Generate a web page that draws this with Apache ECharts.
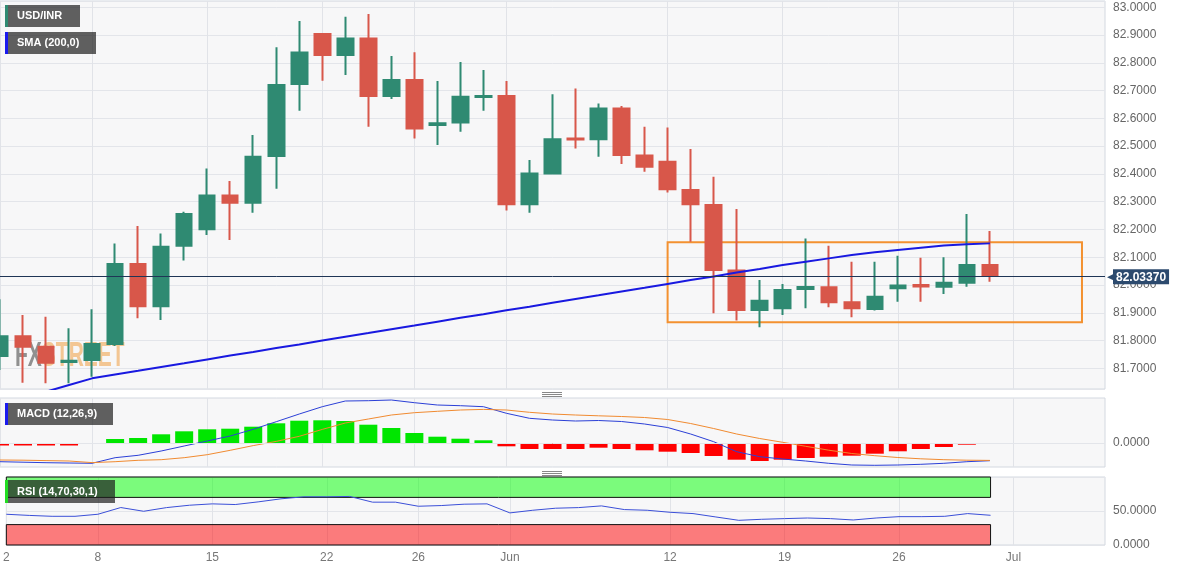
<!DOCTYPE html>
<html><head><meta charset="utf-8">
<script src="https://cdn.jsdelivr.net/npm/echarts@6/dist/echarts.min.js"></script>
<style>html,body{margin:0;padding:0;background:#fff}#c{width:1182px;height:571px}</style>
</head><body><div id="c"></div>
<script>
// ---- data ----
const dates = ['2023-05-02','2023-05-03','2023-05-04','2023-05-05','2023-05-08','2023-05-09','2023-05-10','2023-05-11','2023-05-12',
'2023-05-15','2023-05-16','2023-05-17','2023-05-18','2023-05-19','2023-05-22','2023-05-23','2023-05-24','2023-05-25','2023-05-26',
'2023-05-29','2023-05-30','2023-05-31','2023-06-01','2023-06-02','2023-06-05','2023-06-06','2023-06-07','2023-06-08','2023-06-09',
'2023-06-12','2023-06-13','2023-06-14','2023-06-15','2023-06-16','2023-06-19','2023-06-20','2023-06-21','2023-06-22','2023-06-23',
'2023-06-26','2023-06-27','2023-06-28','2023-06-29','2023-06-30','2023-07-03','2023-07-04','2023-07-05','2023-07-06','2023-07-07'];
const xTickDates = ['2023-05-02','2023-05-08','2023-05-15','2023-05-22','2023-05-26','2023-06-01','2023-06-12','2023-06-19','2023-06-26','2023-07-03'];
const xTickLabels = ['2','8','15','22','26','Jun','12','19','26','Jul'];

const open  = [81.744,81.816,81.778,81.723,81.730,81.788,82.076,81.924,82.141,82.201,82.322,82.296,82.465,82.724,82.904,82.828,82.888,82.681,82.738,82.576,82.585,82.677,82.681,82.291,82.402,82.528,82.525,82.636,82.466,82.444,82.342,82.288,82.052,81.910,81.916,81.986,81.992,81.938,81.914,81.988,82.000,81.994,82.008,82.072];
const close = [81.816,81.778,81.720,81.727,81.788,82.076,81.924,82.138,82.256,82.322,82.296,82.462,82.720,82.837,82.828,82.888,82.681,82.738,82.564,82.583,82.678,82.681,82.291,82.402,82.525,82.524,82.636,82.468,82.426,82.345,82.291,82.054,81.910,81.943,81.982,81.993,81.938,81.916,81.958,81.998,81.995,82.008,82.072,82.0337];
const low   = [81.694,81.648,81.646,81.646,81.670,81.780,81.880,81.874,82.088,82.180,82.162,82.260,82.347,82.628,82.736,82.756,82.570,82.670,82.528,82.504,82.552,82.628,82.268,82.260,82.400,82.492,82.462,82.436,82.408,82.333,82.156,81.898,81.872,81.848,81.892,81.916,81.920,81.884,81.908,81.940,81.940,81.968,81.994,82.012];
const high  = [81.949,81.892,81.886,81.844,81.913,82.150,82.213,82.186,82.264,82.420,82.375,82.540,82.856,82.951,82.905,82.966,82.976,82.825,82.838,82.735,82.803,82.774,82.735,82.450,82.687,82.708,82.654,82.645,82.570,82.567,82.490,82.390,82.274,82.018,82.004,82.168,82.141,82.084,82.084,82.105,82.098,82.100,82.256,82.195];
const sma200 = [81.568,81.592,81.616,81.640,81.664,81.678,81.691,81.705,81.718,81.732,81.746,81.759,81.773,81.786,81.800,81.814,81.827,81.841,81.854,81.868,81.882,81.895,81.909,81.922,81.936,81.950,81.963,81.977,81.990,82.004,82.018,82.031,82.045,82.058,82.072,82.084,82.096,82.108,82.118,82.126,82.134,82.142,82.147,82.150];
const macdHist = [-0.025,-0.025,-0.025,-0.025,-0.01,0.04,0.05,0.087,0.117,0.137,0.143,0.163,0.197,0.223,0.227,0.22,0.183,0.15,0.10,0.063,0.043,0.027,-0.033,-0.06,-0.06,-0.06,-0.047,-0.06,-0.073,-0.087,-0.10,-0.13,-0.167,-0.18,-0.167,-0.15,-0.137,-0.127,-0.107,-0.083,-0.06,-0.04,-0.017,-0.005];
const macdLine = [-0.187,-0.192,-0.197,-0.20,-0.203,-0.147,-0.123,-0.08,-0.03,0.02,0.07,0.137,0.213,0.29,0.363,0.42,0.423,0.43,0.403,0.38,0.373,0.363,0.297,0.247,0.23,0.22,0.225,0.215,0.19,0.155,0.09,0.013,-0.087,-0.137,-0.16,-0.18,-0.203,-0.22,-0.223,-0.22,-0.213,-0.203,-0.187,-0.177];
const signalLine = [-0.17,-0.172,-0.176,-0.18,-0.196,-0.187,-0.173,-0.167,-0.147,-0.117,-0.073,-0.026,0.016,0.067,0.136,0.20,0.24,0.28,0.303,0.317,0.33,0.336,0.33,0.307,0.29,0.28,0.272,0.265,0.255,0.235,0.195,0.145,0.09,0.045,0.007,-0.033,-0.072,-0.105,-0.127,-0.145,-0.158,-0.167,-0.172,-0.174];
const rsi = [45.2,43.5,42.2,42.2,45.2,55.1,49.6,55,58.5,60.5,59.5,63.4,67.9,70.9,70.9,71.4,63,63,57,58,60,60.5,47.2,51.1,54.1,55,57.5,52.1,51.1,48.1,46.2,41.2,36.3,37.8,38.8,39.7,38.8,36.8,39.7,41.7,41.7,42.2,46.2,43.7];
const lastPrice = 82.0337;
const boxDates = ['2023-06-12','2023-07-06'];
const boxPrices = [81.866, 82.154];
const rsiLevels = [30, 70];

// ---- build ----
const candles = open.map((o,i)=>[o, close[i], low[i], high[i]]);
const tickSet = new Set(xTickDates);
const labelOf = v => { const k = xTickDates.indexOf(v); return k >= 0 ? xTickLabels[k] : ''; };
const FONT = '"Liberation Sans", Arial, sans-serif';
const GREEN = '#2f8a72', RED = '#d8574a';
const gridBase = {left:0, right:77, show:true, backgroundColor:'#f7f7f8', borderColor:'#d3d8e0', borderWidth:1};
function xAx(gi, showLabels){
  return {type:'category', gridIndex:gi, data:dates, boundaryGap:false,
    axisLine:{show:false}, axisTick:{show:false},
    axisLabel:{show:showLabels, interval:(i,v)=>tickSet.has(v), formatter:labelOf, color:'#777', fontSize:12, fontFamily:FONT, margin:7},
    splitLine:{show:true, interval:(i,v)=>tickSet.has(v), lineStyle:{color:'#e1e3e8', width:1}}};
}
const chart = echarts.init(document.getElementById('c'), null, {renderer:'canvas'});
function box(x,y,w,h,stripe,text){
  return {type:'group', z:100, children:[
    {type:'rect', z:100, shape:{x:x,y:y,width:w,height:h}, style:{fill:'rgba(30,30,30,0.7)'}},
    {type:'rect', z:101, shape:{x:x,y:y,width:3,height:h}, style:{fill:stripe}},
    {type:'text', z:102, x:x+12, y:y+h/2, style:{text:text, fill:'#fff', font:'bold 11px '+FONT, textVerticalAlign:'middle'}}
  ]};
}
function handle(y){
  return {type:'group', z:100, children:[0,2,4].map(d=>({type:'rect', z:100, shape:{x:542,y:y+d,width:20,height:1}, style:{fill:'#888'}}))};
}
chart.setOption({
  animation:false,
  backgroundColor:'#fff',
  grid:[
    Object.assign({top:1, height:388}, gridBase),
    Object.assign({top:398, height:69}, gridBase),
    Object.assign({top:477, height:68}, gridBase)
  ],
  xAxis:[xAx(0,false), xAx(1,false), xAx(2,true)],
  yAxis:[
    {type:'value', gridIndex:0, position:'right', min:81.6256, max:83.0228, splitNumber:14, scale:true,
     axisLine:{show:false}, axisTick:{show:false},
     axisLabel:{showMinLabel:false, showMaxLabel:false, formatter:v=>v.toFixed(4), color:'#666', fontSize:12, fontFamily:FONT, margin:8},
     splitLine:{lineStyle:{color:'#e3e5ea'}}},
    {type:'value', gridIndex:1, position:'right', min:-0.24, max:0.45, splitNumber:4,
     axisLine:{show:false}, axisTick:{show:false},
     axisLabel:{showMinLabel:false, showMaxLabel:false, formatter:v=>Math.abs(v)<1e-9?'0.0000':'', color:'#666', fontSize:12, fontFamily:FONT, margin:8},
     splitLine:{show:false}},
    {type:'value', gridIndex:2, position:'right', min:0, max:100, interval:50,
     axisLine:{show:false}, axisTick:{show:false},
     axisLabel:{showMaxLabel:false, formatter:v=>v.toFixed(4), color:'#666', fontSize:12, fontFamily:FONT, margin:8},
     splitLine:{lineStyle:{color:'#e3e5ea'}}}
  ],
  graphic:[
    box(5,5,75,22,GREEN,'USD/INR'),
    box(5,32,91,22,'#1a1aee','SMA (200,0)'),
    box(5,403,108,22,'#1a1aee','MACD (12,26,9)'),
    box(5,480,110,23,'#22dd22','RSI (14,70,30,1)'),
    handle(392), handle(471),
    {type:'text', z:1, x:15, y:356, scaleX:0.6, style:{text:'{a|FX}{b|STREET}', font:'bold 35px '+FONT, textVerticalAlign:'middle',
      rich:{a:{fill:'rgba(110,110,110,0.75)', font:'bold 35px '+FONT}, b:{fill:'rgba(240,165,80,0.6)', font:'bold 35px '+FONT}}}}
  ],
  series:[
    {type:'candlestick', xAxisIndex:0, yAxisIndex:0, data:candles, barWidth:16, clip:true,
     itemStyle:{color:GREEN, color0:RED, borderColor:GREEN, borderColor0:RED, borderWidth:2},
     markLine:{silent:true, symbol:['none','none'], animation:false,
       lineStyle:{color:'#1f3556', width:1, type:'solid'},
       label:{show:true, position:'end', distance:2, formatter:'{a|◀}{b|82.03370}',
         rich:{a:{color:'#2c4a6e', fontSize:11, padding:[0,-2,0,0]}, b:{backgroundColor:'#2c4a6e', color:'#fff', fontWeight:'bold', fontSize:12, fontFamily:FONT, padding:[2,3,1,3]}}},
       data:[{yAxis:lastPrice}]},
     markArea:{silent:true, itemStyle:{color:'rgba(0,0,0,0)', borderColor:'#f39130', borderWidth:2},
       data:[[{xAxis:boxDates[0], yAxis:boxPrices[1]},{xAxis:boxDates[1], yAxis:boxPrices[0]}]]}},
    {type:'line', xAxisIndex:0, yAxisIndex:0, data:sma200, showSymbol:false, symbol:'none', clip:true,
     lineStyle:{color:'#1919e0', width:2}, z:3},
    {type:'bar', xAxisIndex:1, yAxisIndex:1, data:macdHist, barWidth:18,
     itemStyle:{color:p=>p.value>=0?'#00e600':'#ff0000'},
     markLine:{silent:true, symbol:['none','none'], label:{show:false}, lineStyle:{color:'#e3e5ea', width:1, type:'solid'}, data:[{yAxis:0}]}},
    {type:'line', xAxisIndex:1, yAxisIndex:1, data:macdLine, showSymbol:false, symbol:'none', lineStyle:{color:'#2b3fd6', width:1}, z:4},
    {type:'line', xAxisIndex:1, yAxisIndex:1, data:signalLine, showSymbol:false, symbol:'none', lineStyle:{color:'#f08a30', width:1}, z:4},
    {type:'line', xAxisIndex:2, yAxisIndex:2, data:rsi, showSymbol:false, symbol:'none', lineStyle:{color:'#3b4fd8', width:1}, z:4,
     markArea:{silent:true, itemStyle:{borderColor:'#111', borderWidth:1},
       data:[
         [{xAxis:dates[0], yAxis:rsiLevels[1], itemStyle:{color:'rgba(0,255,0,0.5)'}},{xAxis:dates[rsi.length-1], yAxis:100}],
         [{xAxis:dates[0], yAxis:0, itemStyle:{color:'rgba(255,0,0,0.5)'}},{xAxis:dates[rsi.length-1], yAxis:rsiLevels[0]}]
       ]}}
  ]
});
</script></body></html>
